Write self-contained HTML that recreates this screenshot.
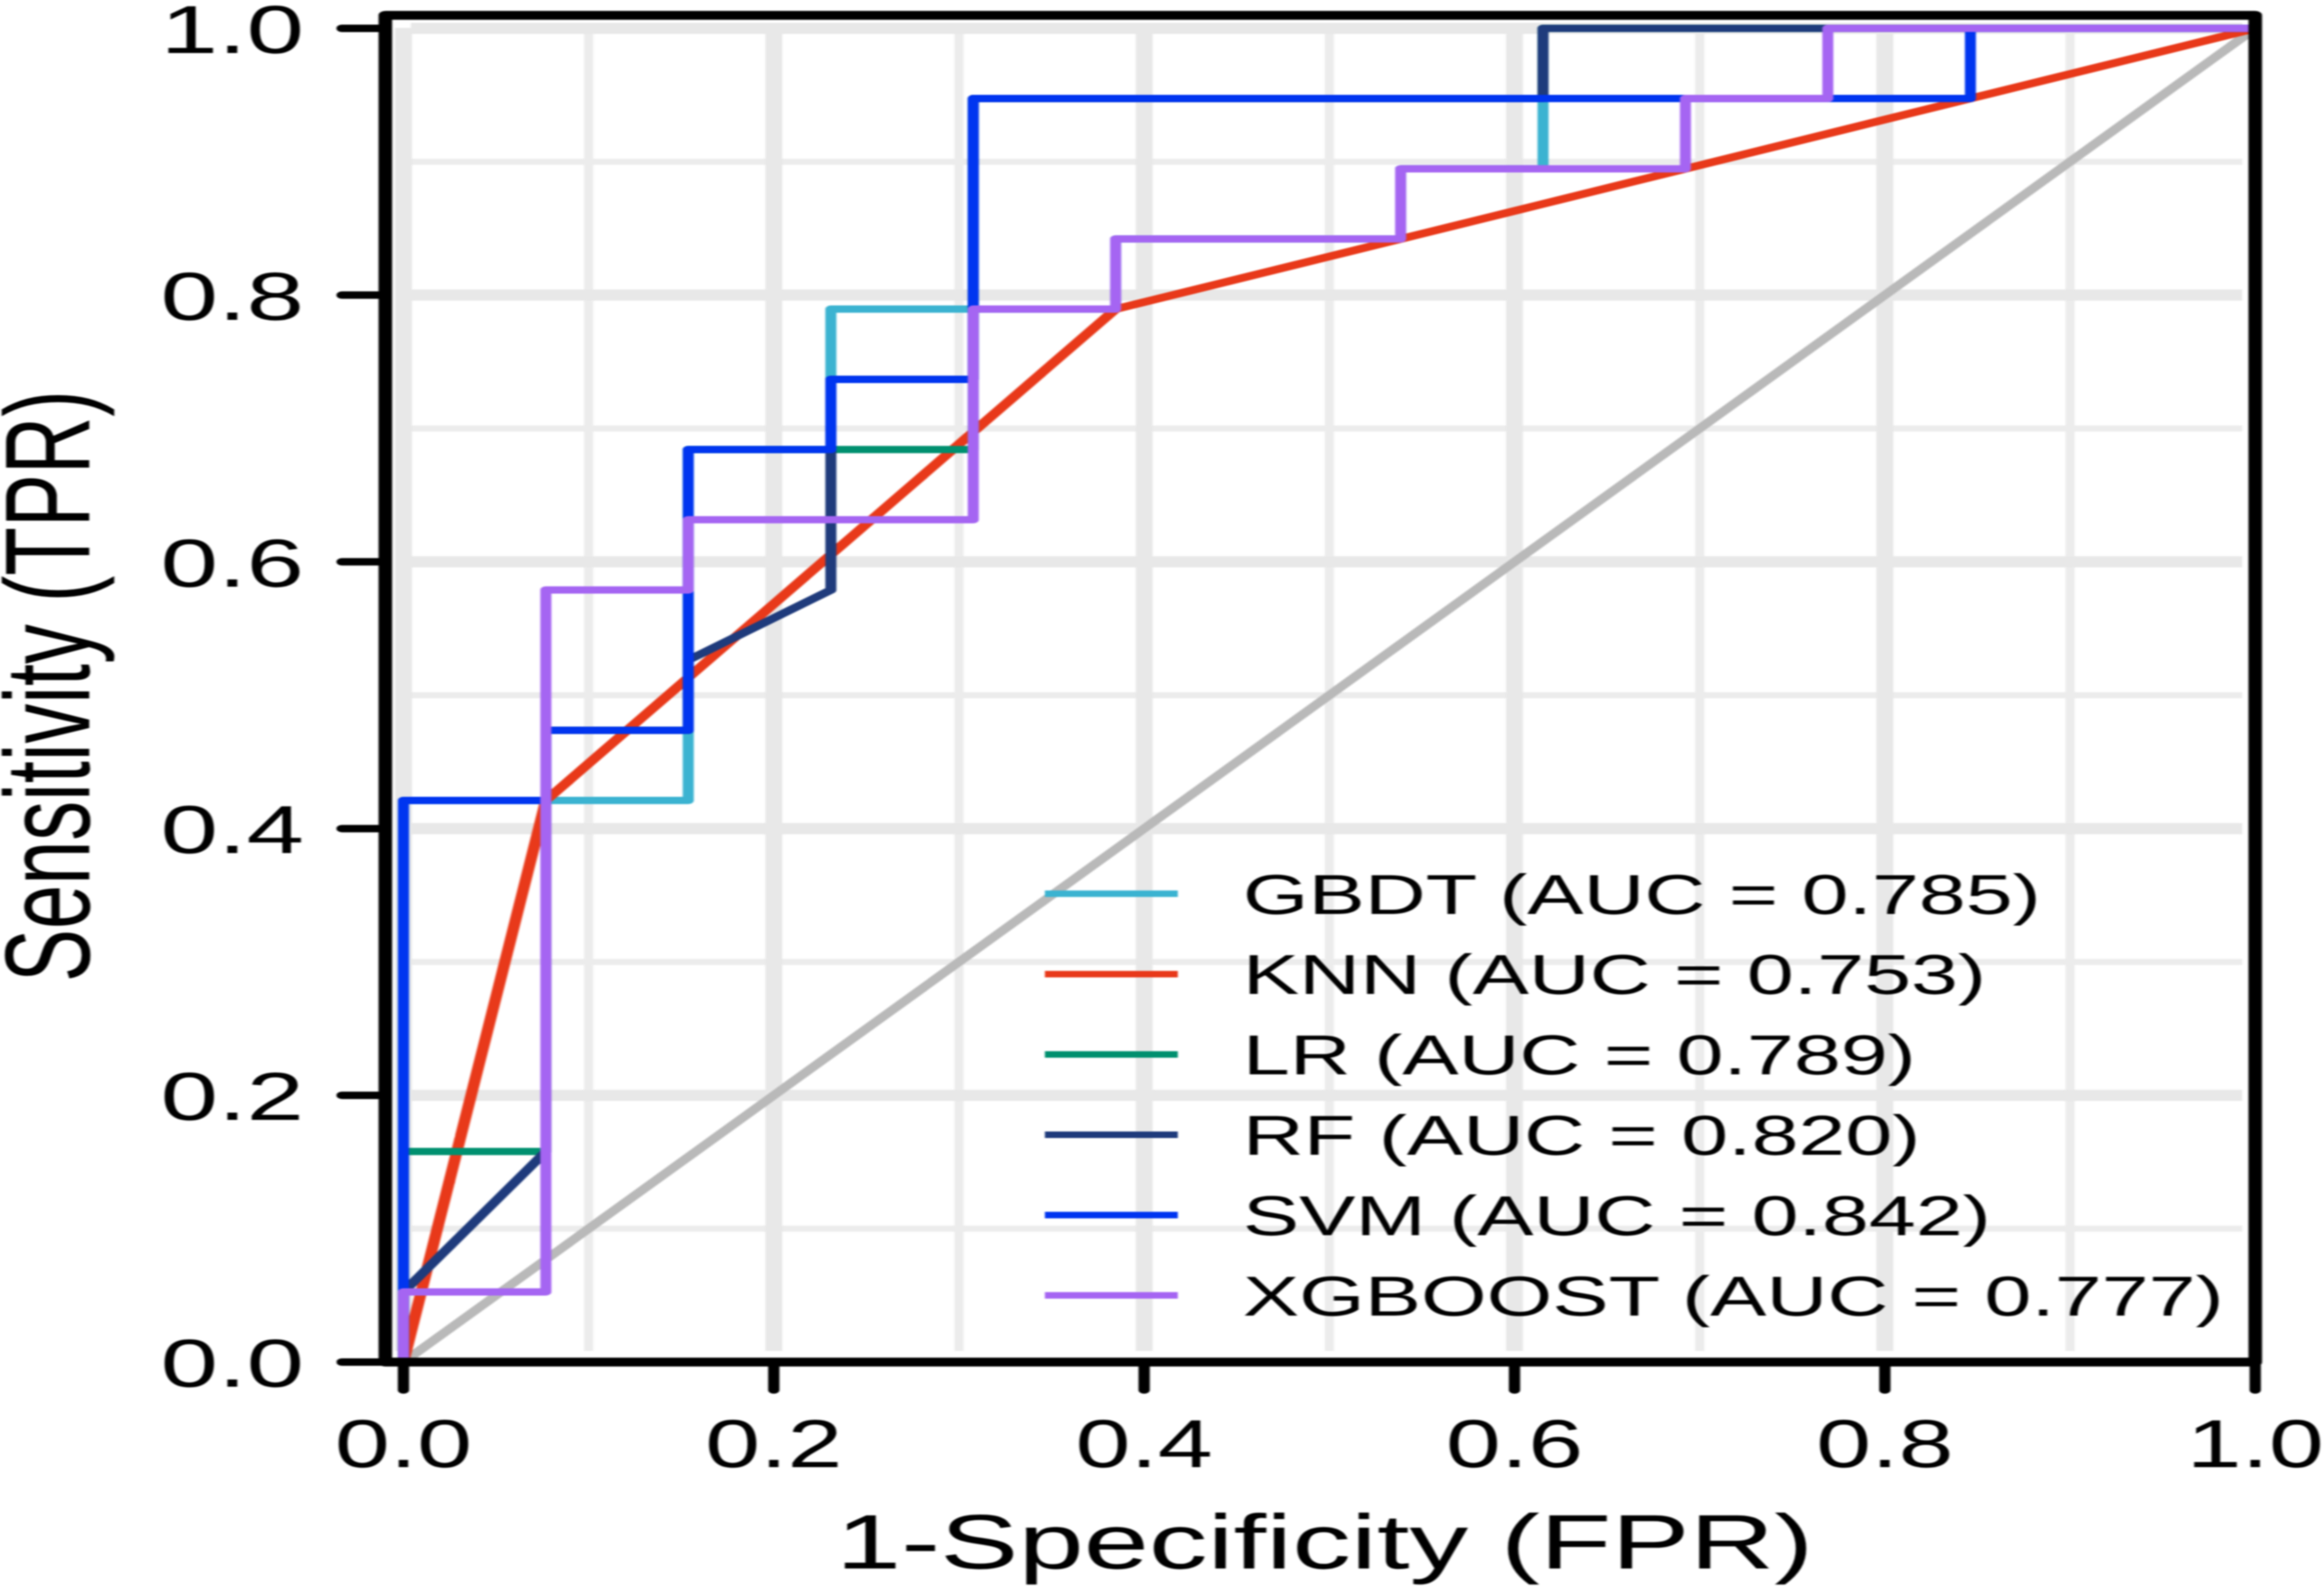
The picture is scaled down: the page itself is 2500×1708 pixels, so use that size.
<!DOCTYPE html>
<html lang="en">
<head>
<meta charset="utf-8">
<title>ROC curves</title>
<style>
  html, body { margin: 0; padding: 0; background: #fff; }
  svg { display: block; }
  text { font-family: "Liberation Sans", Arial, sans-serif; fill: #000; text-rendering: geometricPrecision; }
  #stage { filter: blur(0.7px); }
</style>
</head>
<body>
<svg id="chart" xmlns="http://www.w3.org/2000/svg" width="2500" height="1708" viewBox="0 0 2500 1708">
  <g id="stage" transform="scale(1.52,1)"></g>
</svg>
<script>
const axisTicks = [0, 0.2, 0.4, 0.6, 0.8, 1];
const tickLabels = ["0.0", "0.2", "0.4", "0.6", "0.8", "1.0"];
const minorTicks = [0.1, 0.3, 0.5, 0.7, 0.9];

const modelNames = ["GBDT", "KNN", "LR", "RF", "SVM", "XGBOOST"];
const aucValues = ["0.785", "0.753", "0.789", "0.820", "0.842", "0.777"];
const modelColors = ["#3bb3d1", "#e8391a", "#00906f", "#1f3b7c", "#0035f0", "#a565f2"];

const gbdtFpr = [0, 0, 0.1538, 0.1538, 0.2308, 0.2308, 0.3846, 0.3846, 0.5385, 0.5385, 0.6154, 0.6154, 0.7692, 1];
const gbdtTpr = [0, 0.4211, 0.4211, 0.6842, 0.6842, 0.7895, 0.7895, 0.8421, 0.8421, 0.8947, 0.8947, 1, 1, 1];
const knnFpr = [0, 0.0769, 0.3846, 0.5385, 0.6923, 0.8462, 1];
const knnTpr = [0, 0.4211, 0.7895, 0.8421, 0.8947, 0.9474, 1];
const lrFpr = [0, 0, 0.0769, 0.0769, 0.1538, 0.1538, 0.3077, 0.3077, 0.6154, 0.6154, 1];
const lrTpr = [0, 0.1579, 0.1579, 0.4737, 0.4737, 0.6842, 0.6842, 0.9474, 0.9474, 1, 1];
const rfFpr = [0, 0, 0.0769, 0.0769, 0.1538, 0.1538, 0.2308, 0.2308, 0.3077, 0.3077, 0.6154, 0.6154, 1];
const rfTpr = [0, 0.0526, 0.1579, 0.4737, 0.4737, 0.5263, 0.5789, 0.7368, 0.7368, 0.9474, 0.9474, 1, 1];
const svmFpr = [0, 0, 0.0769, 0.0769, 0.1538, 0.1538, 0.2308, 0.2308, 0.3077, 0.3077, 0.8462, 0.8462, 1];
const svmTpr = [0, 0.4211, 0.4211, 0.4737, 0.4737, 0.6842, 0.6842, 0.7368, 0.7368, 0.9474, 0.9474, 1, 1];
const xgbFpr = [0, 0, 0.0769, 0.0769, 0.1538, 0.1538, 0.3077, 0.3077, 0.3846, 0.3846, 0.5385, 0.5385, 0.6923, 0.6923, 0.7692, 0.7692, 1];
const xgbTpr = [0, 0.0526, 0.0526, 0.5789, 0.5789, 0.6316, 0.6316, 0.7895, 0.7895, 0.8421, 0.8421, 0.8947, 0.8947, 0.9474, 0.9474, 1, 1];

const seriesFpr = [gbdtFpr, knnFpr, lrFpr, rfFpr, svmFpr, xgbFpr];
const seriesTpr = [gbdtTpr, knnTpr, lrTpr, rfTpr, svmTpr, xgbTpr];

const stretch = 1.52;
const NS = "http://www.w3.org/2000/svg";
const stage = document.getElementById("stage");
const xAxis = v => (434 + 1992 * v) / stretch;
const yAxis = v => 1465 - 1434.5 * v;
const px = v => v / stretch;

function make(tag, attrs, parent) {
  const el = document.createElementNS(NS, tag);
  for (const k in attrs) el.setAttribute(k, attrs[k]);
  (parent || stage).appendChild(el);
  return el;
}

// minor grid
minorTicks.forEach(t => {
  const v = make("line", {x1: xAxis(t), x2: xAxis(t), y1: 30, y2: 1453, stroke: "#ececec", "stroke-width": 6.5});
  
  
  const h = make("line", {x1: px(442), x2: px(2412), y1: yAxis(t), y2: yAxis(t), stroke: "#ececec", "stroke-width": 6.5});
  
  
});

// major grid
axisTicks.forEach(t => {
  if (t < 1) {
    const v = make("line", {x1: xAxis(t), x2: xAxis(t), y1: 30, y2: 1453, stroke: "#e8e8e8", "stroke-width": 12});
    
    
  }
  if (t > 0) {
    const h = make("line", {x1: px(442), x2: px(2412), y1: yAxis(t), y2: yAxis(t), stroke: "#e8e8e8", "stroke-width": 12});
    
    
  }
});

// diagonal reference
const diag = make("line", {x1: xAxis(0), y1: yAxis(0), x2: xAxis(1), y2: yAxis(1), stroke: "#b9b9b9", "stroke-width": 8});



// ROC series
modelNames.forEach((name, i) => {
  const fpr = seriesFpr[i];
  const tpr = seriesTpr[i];
  const pts = fpr.map((f, j) => xAxis(f).toFixed(2) + "," + yAxis(tpr[j]).toFixed(2)).join(" ");
  const line = make("polyline", {points: pts, fill: "none", stroke: modelColors[i], "stroke-width": name === "KNN" ? 8.2 : 7.8, "stroke-linejoin": "round"});
  
  
});

// panel frame
const frame = make("rect", {x: px(414.5), y: 16.5, width: px(2426 - 414.5), height: 1465 - 16.5, fill: "none", stroke: "#000", "stroke-width": 9.6, "stroke-linejoin": "round"});



// ticks + labels
axisTicks.forEach((t, i) => {
  const yt = make("line", {x1: px(368), x2: px(414), y1: yAxis(t), y2: yAxis(t), stroke: "#000", "stroke-width": 8, "stroke-linecap": "round"});
  
  
  const xt = make("line", {x1: xAxis(t), x2: xAxis(t), y1: 1465, y2: 1495, stroke: "#000", "stroke-width": 8, "stroke-linecap": "round"});
  
  

  const yl = make("text", {transform: "translate(" + px(327) + "," + (yAxis(t) + 26.5) + ")", "text-anchor": "end", "font-size": 73});
  yl.textContent = tickLabels[i];
  
  
  const xl = make("text", {transform: "translate(" + xAxis(t) + ",1578) scale(0.957,1)", "text-anchor": "middle", "font-size": 73});
  xl.textContent = tickLabels[i];
  
  
});

// axis titles
const xTitle = make("text", {x: px(1425), y: 1687, "text-anchor": "middle", "font-size": 83});
xTitle.textContent = "1-Specificity (FPR)";



const yTitle = make("text", {transform: "translate(" + px(96) + ",738) rotate(-90)", "text-anchor": "middle", "font-size": 85.5});
yTitle.textContent = "Sensitivity (TPR)";



// legend
modelNames.forEach((name, i) => {
  const ly = 961.3 + 86.4 * i;
  const swatch = make("line", {x1: px(1124), x2: px(1267), y1: ly, y2: ly, stroke: modelColors[i], "stroke-width": 7});
  
  
  const label = make("text", {transform: "translate(" + px(1337) + "," + (ly + 21.5) + ") scale(0.987,1)", "font-size": 60.5});
  label.textContent = name + " (AUC = " + aucValues[i] + ")";
  
  
});
</script>
</body>
</html>
